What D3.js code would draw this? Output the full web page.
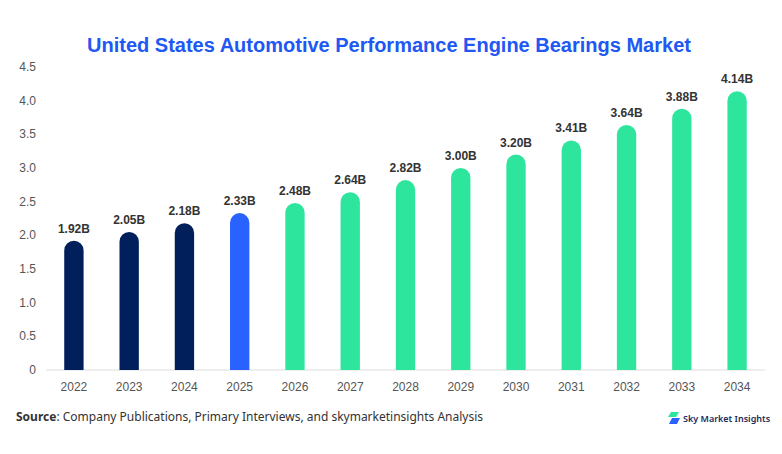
<!DOCTYPE html>
<html>
<head>
<meta charset="utf-8">
<script src="https://cdn.jsdelivr.net/npm/d3@7"></script>
<style>
  body { margin: 0; background: #fff; font-family: "Liberation Sans", Arial, sans-serif; }
</style>
</head>
<body>
<svg id="chart"></svg>
<script>
const years = ["2022", "2023", "2024", "2025", "2026", "2027", "2028", "2029", "2030", "2031", "2032", "2033", "2034"];
const values = [1.92, 2.05, 2.18, 2.33, 2.48, 2.64, 2.82, 3.00, 3.20, 3.41, 3.64, 3.88, 4.14];
const yTicks = [0, 0.5, 1.0, 1.5, 2.0, 2.5, 3.0, 3.5, 4.0, 4.5];

const width = 782, height = 454;
const margin = { top: 67, right: 17, bottom: 84, left: 46 };

const svg = d3.select("#chart").attr("width", width).attr("height", height);

svg.append("text")
  .attr("x", 389).attr("y", 52)
  .attr("text-anchor", "middle")
  .attr("font-size", 20).attr("font-weight", "bold")
  .attr("fill", "#2157f2")
  .text("United States Automotive Performance Engine Bearings Market");

const x = d3.scaleBand().domain(years)
  .range([margin.left, width - margin.right]).paddingInner(0.65).paddingOuter(0.33);
const y = d3.scaleLinear().domain([0, 4.5]).range([height - margin.bottom, margin.top]);

const color = (d, i) => i < 3 ? "#001f5b" : (i === 3 ? "#2962ff" : "#2ee59d");

// y axis labels
svg.append("g").selectAll("text").data(yTicks).join("text")
  .attr("x", 36).attr("y", d => y(d) + 4)
  .attr("text-anchor", "end")
  .attr("font-size", 12).attr("fill", "#555")
  .text(d => d === 0 ? "0" : d.toFixed(1));

// baseline
svg.append("line")
  .attr("x1", margin.left).attr("x2", width - margin.right)
  .attr("y1", y(0)).attr("y2", y(0))
  .attr("stroke", "#ddd");

const bw = x.bandwidth();
svg.append("g").selectAll("path").data(values).join("path")
  .attr("fill", color)
  .attr("d", (d, i) => {
    const x0 = x(years[i]), top = y(d), bot = y(0), r = bw / 2;
    return `M${x0},${bot} L${x0},${top + r} A${r},${r} 0 0 1 ${x0 + bw},${top + r} L${x0 + bw},${bot} Z`;
  });

svg.append("g").selectAll("text").data(values).join("text")
  .attr("x", (d, i) => x(years[i]) + bw / 2)
  .attr("y", d => y(d) - 8)
  .attr("text-anchor", "middle")
  .attr("font-size", 12).attr("font-weight", "bold").attr("fill", "#333")
  .text(d => d.toFixed(2) + "B");

svg.append("g").selectAll("text").data(years).join("text")
  .attr("x", d => x(d) + bw / 2)
  .attr("y", y(0) + 21)
  .attr("text-anchor", "middle")
  .attr("font-size", 12).attr("fill", "#555")
  .text(d => d);

const src = svg.append("text").attr("x", 16).attr("y", 421)
  .attr("font-family", "'Noto Sans', sans-serif").attr("font-size", 12).attr("fill", "#333");
src.append("tspan").attr("font-weight", "bold").text("Source");
src.append("tspan").text(": Company Publications, Primary Interviews, and skymarketinsights Analysis");

// logo
const logo = svg.append("g").attr("transform", "translate(668,412)");
logo.append("path").attr("d", "M3,0 L11,0 L8,5 L0,5 Z").attr("fill", "#2ee59d");
logo.append("path").attr("d", "M4,6 L12,6 L9,12 L1,12 Z").attr("fill", "#2962ff");
logo.append("text").attr("x", 15).attr("y", 10)
  .attr("font-family", "'Noto Sans', sans-serif").attr("font-size", 9).attr("font-weight", "600")
  .attr("fill", "#1a2a5a").text("Sky Market Insights");
</script>
</body>
</html>
